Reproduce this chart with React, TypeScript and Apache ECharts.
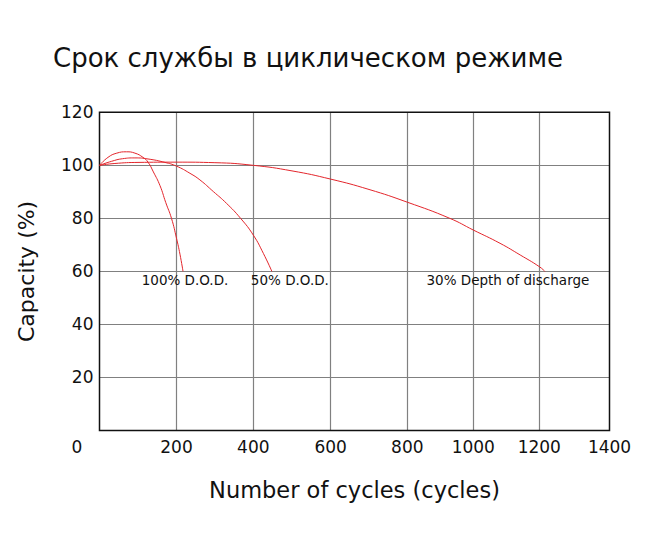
import { useEffect, useRef } from 'react';
import * as echarts from 'echarts';

// x axis ticks (cycles)
const xTickValues = [0, 200, 400, 600, 800, 1000, 1200, 1400];

// curves: cycles / capacity (%)
const dod100Cycles = [0, 22, 45, 70, 92, 113, 126, 140, 157, 172, 187, 200, 209, 217];
const dod100Capacity = [100, 103, 104.6, 105.1, 104.6, 103, 101.2, 97.5, 92.4, 86, 80, 72.5, 66.5, 60];

const dod50Cycles = [0, 31, 60, 92, 126, 170, 200, 235, 261, 296, 330, 367, 400, 426, 448];
const dod50Capacity = [100, 101.5, 102.5, 102.8, 102.4, 101.1, 99.7, 97, 94.5, 90.1, 85.7, 80, 73.7, 66.8, 60];

const dod30Cycles = [0, 40, 100, 200, 300, 400, 500, 600, 700, 800, 929, 1000, 1081, 1142, 1200, 1216];
const dod30Capacity = [100, 100.7, 101.1, 101.2, 101, 100, 97.9, 94.8, 90.9, 86.1, 80, 75.6, 70.6, 66.2, 61.8, 60];

const seriesNames = ['100% D.O.D.', '50% D.O.D.', '30% Depth of discharge'];

// the printed grid is not evenly spaced: px of each x tick from the plot's left edge
const X_TICK_OFFSETS = [0, 77, 153.8, 231.2, 307.8, 373.8, 439.8, 510];
const PLOT_W = 510;

const RED = '#e3262c';
const INK = '#111';
const FONT = '"DejaVu Sans", sans-serif';

function cyclesToAxis(c: number) {
  const last = xTickValues.length - 2;
  for (let i = 0; i <= last; i++) {
    if (c <= xTickValues[i + 1] || i === last) {
      const t = (c - xTickValues[i]) / (xTickValues[i + 1] - xTickValues[i]);
      return X_TICK_OFFSETS[i] + t * (X_TICK_OFFSETS[i + 1] - X_TICK_OFFSETS[i]);
    }
  }
  return 0;
}

function makeSeries(name: string, cycles: number[], capacity: number[], labelDx: number) {
  return {
    type: 'line',
    name,
    smooth: 0.5,
    symbol: 'circle',
    symbolSize: 0,
    showSymbol: true,
    silent: true,
    z: 2,
    lineStyle: { color: RED, width: 1 },
    itemStyle: { color: RED },
    data: cycles.map((c, i) => {
      const value = [cyclesToAxis(c), capacity[i]];
      if (i < cycles.length - 1) return value;
      return {
        value,
        label: {
          show: true,
          formatter: name,
          position: 'bottom',
          distance: 2,
          offset: [labelDx, 0],
          color: INK,
          fontSize: 13.5,
          fontFamily: FONT
        }
      };
    })
  };
}

export default function App() {
  const chartRef = useRef<HTMLDivElement>(null);

  useEffect(() => {
    if (!chartRef.current) return;
    const chart = echarts.init(chartRef.current, null, { renderer: 'svg' });

    const option: any = {
      animation: false,
      title: {
        text: 'Срок службы в циклическом режиме',
        left: 48,
        top: 40,
        textStyle: { fontSize: 26, fontWeight: 'normal', color: INK, fontFamily: FONT }
      },
      grid: {
        left: 99.5,
        right: 42.5,
        top: 112.3,
        bottom: 121.5,
        show: true,
        z: 1,
        borderColor: INK,
        borderWidth: 1.5,
        backgroundColor: 'transparent',
        outerBoundsMode: 'none'
      },
      xAxis: {
        type: 'value',
        min: 0,
        max: PLOT_W,
        name: 'Number of cycles (cycles)',
        nameLocation: 'middle',
        nameGap: 48,
        nameTextStyle: { fontSize: 22.5, color: INK, fontFamily: FONT },
        axisLine: { show: false },
        axisTick: { show: false, customValues: X_TICK_OFFSETS.slice(1, -1) },
        axisLabel: {
          customValues: X_TICK_OFFSETS,
          margin: 8,
          color: INK,
          fontSize: 17,
          fontFamily: FONT,
          formatter: (v: number) => {
            let idx = 0;
            X_TICK_OFFSETS.forEach((p, i) => {
              if (Math.abs(p - v) < Math.abs(X_TICK_OFFSETS[idx] - v)) idx = i;
            });
            return idx === 0 ? '{zero|0}' : String(xTickValues[idx]);
          },
          rich: {
            zero: { fontSize: 17, color: INK, fontFamily: FONT, padding: [0, 45, 0, 0] }
          }
        },
        splitLine: { show: true, lineStyle: { color: '#808080', width: 1.2 } }
      },
      yAxis: {
        type: 'value',
        min: 0,
        max: 120,
        interval: 20,
        name: 'Capacity (%)',
        nameLocation: 'middle',
        nameGap: 62,
        nameTextStyle: { fontSize: 22, color: INK, fontFamily: FONT },
        axisLine: { show: false },
        axisTick: { show: false },
        axisLabel: {
          margin: 6,
          color: INK,
          fontSize: 17,
          fontFamily: FONT,
          formatter: (v: number) => (v === 0 ? '' : String(v))
        },
        splitLine: { show: true, lineStyle: { color: '#808080', width: 1.2 } }
      },
      series: [
        makeSeries(seriesNames[0], dod100Cycles, dod100Capacity, 2),
        makeSeries(seriesNames[1], dod50Cycles, dod50Capacity, 18),
        makeSeries(seriesNames[2], dod30Cycles, dod30Capacity, -37)
      ]
    };

    chart.setOption(option);
    return () => chart.dispose();
  }, []);

  return (
    <div
      ref={chartRef}
      style={{ position: 'fixed', left: 0, top: 0, width: 652, height: 552, background: '#fff' }}
    />
  );
}
